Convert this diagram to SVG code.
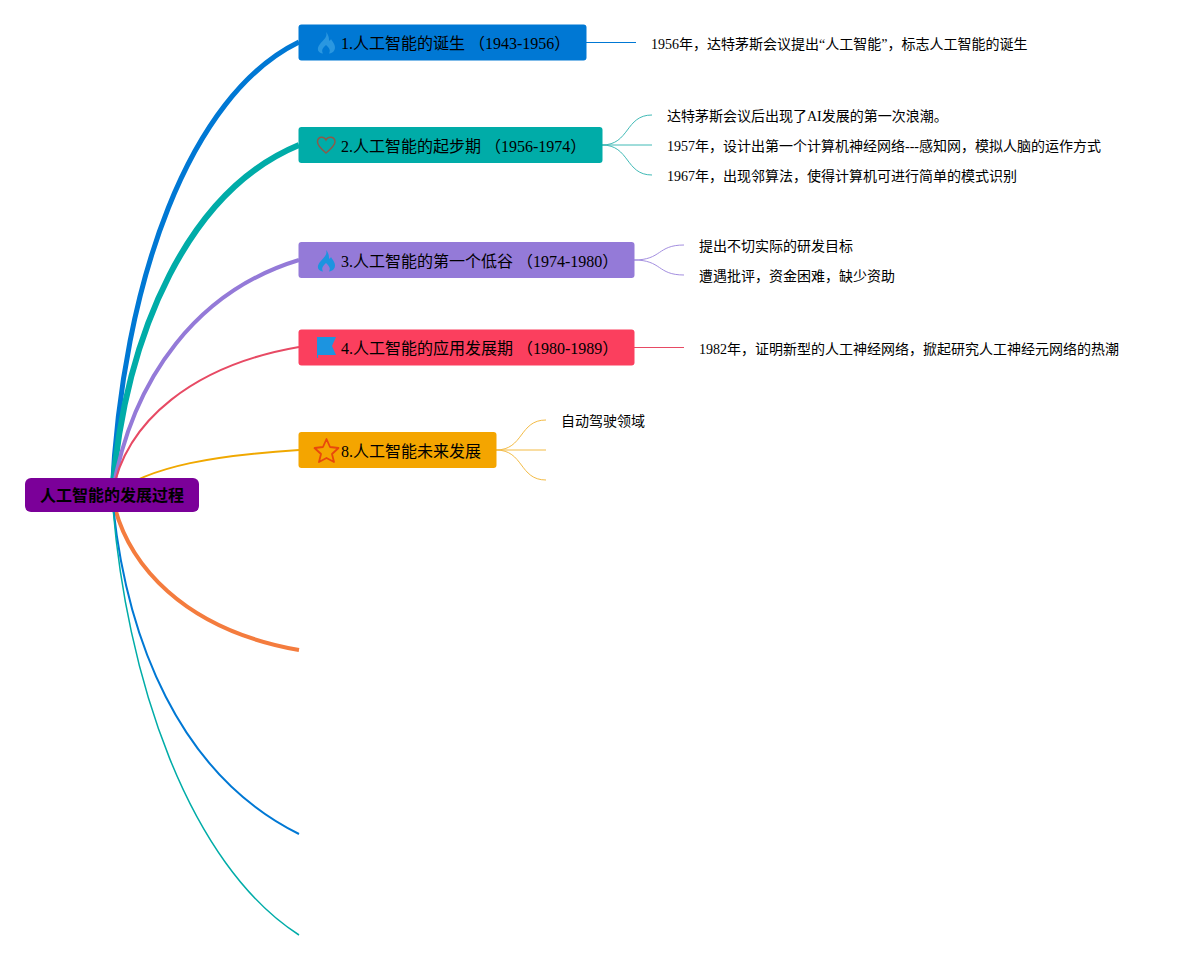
<svg xmlns="http://www.w3.org/2000/svg" width="1179" height="960" viewBox="0 0 1179 960">
<style>
text{font-family:"Liberation Serif","Noto Sans CJK SC",serif;font-size:14px;fill:#000}
.t{font-size:16px}
.r{font-size:16px;font-weight:bold}
.c{fill:none}
</style>
<rect width="1179" height="960" fill="#fff"/>
<g id="connectors">
<path class="c" d="M112 495C122 280 190 95 299 42" stroke="#0078d4" stroke-width="5"/>
<path class="c" d="M112 495C125 330 190 190 299 145" stroke="#00aca8" stroke-width="6"/>
<path class="c" d="M112 495C132 375 200 290 299 260" stroke="#947ad8" stroke-width="4"/>
<path class="c" d="M112 495C125 420 195 365 299 347" stroke="#e74a64" stroke-width="2"/>
<path class="c" d="M112 495C150 465 220 455 299 450" stroke="#f0a800" stroke-width="2"/>
<path class="c" d="M112 495C125 565 185 630 299 650" stroke="#f47c3e" stroke-width="4"/>
<path class="c" d="M112 495C125 640 180 775 299 834" stroke="#0078d4" stroke-width="2"/>
<path class="c" d="M112 495C125 680 190 865 299 935" stroke="#00aca8" stroke-width="1.500"/>
<path class="c" d="M586 42.500H636" stroke="#0078d4" stroke-width="1"/>
<path class="c" d="M602 145C630 145 625 115 652 115M602 145H652M602 145C630 145 625 175 652 175" stroke="#40bab6" stroke-width="1"/>
<path class="c" d="M634 260C662 260 657 245 684 245M634 260C662 260 657 275 684 275" stroke="#a48fe0" stroke-width="1"/>
<path class="c" d="M634 347.500H684" stroke="#e74a64" stroke-width="1"/>
<path class="c" d="M496 450C524 450 519 420 546 420M496 450H546M496 450C524 450 519 480 546 480" stroke="#f3bb45" stroke-width="1"/>
</g>
<g id="root"><rect x="25" y="478" width="174" height="34" rx="6" fill="#7b0099"/><text class="r" x="40" y="501">人工智能的发展过程</text></g>
<g id="n1"><rect x="298.500" y="24.500" width="288" height="36" rx="3" fill="#0078d4"/>
<path d="M326 32C328 37 323 40 320 44C316 49 318 53 323 53.500C321 50 323 48 326 45C329 48 331 50 329 53.500C334 53 336 49 334.500 45C333.500 42.500 332 41 331 39C330 41 329 41 329 40C329 37 328 34 326 32Z" fill="#2a97e0"/>
<text class="t" x="341" y="49">1.人工智能的诞生 （1943-1956）</text><text x="651" y="49">1956年，达特茅斯会议提出“人工智能”，标志人工智能的诞生</text></g>
<g id="n2"><rect x="298.500" y="127" width="304" height="36" rx="3" fill="#00aca8"/>
<path d="M326 153C320 148 317.500 145 317.500 142C317.500 136 324 136 326 140C328 136 335 136 335 142C335 145 332 148 326 153Z" fill="none" stroke="#8c5a4a" stroke-width="1.500"/>
<text class="t" x="341" y="152">2.人工智能的起步期 （1956-1974）</text>
<text x="667" y="121">达特茅斯会议后出现了AI发展的第一次浪潮。</text><text x="667" y="151">1957年，设计出第一个计算机神经网络---感知网，模拟人脑的运作方式</text><text x="667" y="181">1967年，出现邻算法，使得计算机可进行简单的模式识别</text></g>
<g id="n3"><rect x="298.500" y="242" width="336" height="36" rx="3" fill="#947ad8"/>
<path d="M326 250C328 255 323 258 320 262C316 267 318 271 323 271.500C321 268 323 266 326 263C329 266 331 268 329 271.500C334 271 336 267 334.500 263C333.500 260.500 332 259 331 257C330 259 329 259 329 258C329 255 328 252 326 250Z" fill="#1c94e0"/>
<text class="t" x="341" y="267">3.人工智能的第一个低谷 （1974-1980）</text>
<text x="699" y="251">提出不切实际的研发目标</text><text x="699" y="281">遭遇批评，资金困难，缺少资助</text></g>
<g id="n4"><rect x="298.500" y="329.500" width="336" height="36" rx="3" fill="#fb3f5e"/>
<path d="M317 337H336L332 346L336 355H318V358H317Z" fill="#1c94e0"/>
<text class="t" x="341" y="354">4.人工智能的应用发展期 （1980-1989）</text>
<text x="699" y="354">1982年，证明新型的人工神经网络，掀起研究人工神经元网络的热潮</text></g>
<g id="n8"><rect x="298.500" y="432" width="198" height="36" rx="3" fill="#f4a500"/>
<path d="M326.500 439L330 447L338.500 448L332 454L334 462L326.500 458L319 462L321 454L314.500 448L323 447Z" fill="none" stroke="#e8480c" stroke-width="1.800" stroke-linejoin="round"/>
<text class="t" x="341" y="457">8.人工智能未来发展</text>
<text x="561" y="426">自动驾驶领域</text></g>
</svg>
